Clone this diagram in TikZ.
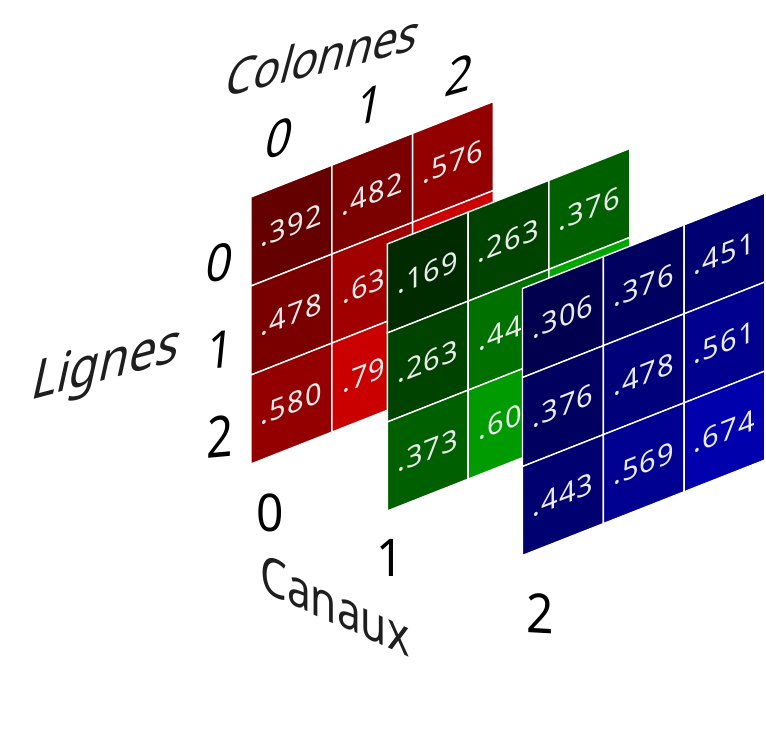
\documentclass[tikz,border=0pt]{standalone}
\usepackage{fontspec}
\setmainfont{Noto Sans}
\definecolor{valtext}{RGB}{235,235,235}
\definecolor{labtext}{RGB}{30,30,30}
% red
\definecolor{r00}{RGB}{100,0,0}\definecolor{r01}{RGB}{123,0,0}\definecolor{r02}{RGB}{147,0,0}
\definecolor{r10}{RGB}{122,0,0}\definecolor{r11}{RGB}{161,0,0}\definecolor{r12}{RGB}{204,0,0}
\definecolor{r20}{RGB}{148,0,0}\definecolor{r21}{RGB}{202,0,0}\definecolor{r22}{RGB}{220,0,0}
% green
\definecolor{g00}{RGB}{0,43,0}\definecolor{g01}{RGB}{0,67,0}\definecolor{g02}{RGB}{0,96,0}
\definecolor{g10}{RGB}{0,67,0}\definecolor{g11}{RGB}{0,113,0}\definecolor{g12}{RGB}{0,166,0}
\definecolor{g20}{RGB}{0,95,0}\definecolor{g21}{RGB}{0,155,0}\definecolor{g22}{RGB}{0,180,0}
% blue
\definecolor{b00}{RGB}{0,0,78}\definecolor{b01}{RGB}{0,0,96}\definecolor{b02}{RGB}{0,0,115}
\definecolor{b10}{RGB}{0,0,96}\definecolor{b11}{RGB}{0,0,122}\definecolor{b12}{RGB}{0,0,143}
\definecolor{b20}{RGB}{0,0,113}\definecolor{b21}{RGB}{0,0,145}\definecolor{b22}{RGB}{0,0,172}
\begin{document}
\begin{tikzpicture}[x=1pt,y=1pt,
  cellbox/.style={draw=white, line width=1.4pt},
  val/.style={transform shape, text=valtext, font=\fontsize{29}{32}\selectfont\addfontfeature{LetterSpace=4}, inner sep=0pt},
  lab/.style={text=labtext, inner sep=0pt},
  digit/.style={text=black, inner sep=0pt, font=\fontsize{52}{56}\selectfont},
]
\useasboundingbox (0,0) rectangle (766,735);
\def\cw{80.8}\def\ch{89}
% red panel
\begin{scope}[shift={(251,538)}, yslant=0.394]
\foreach \r/\c/\col/\v in {0/0/r00/.392, 0/1/r01/.482, 0/2/r02/.576,
  1/0/r10/.478, 1/1/r11/.63\phantom{0}, 1/2/r12/{},
  2/0/r20/.580, 2/1/r21/.79\phantom{0}, 2/2/r22/{}}{
  \path[cellbox, fill=\col] ({\c*\cw},{-\r*\ch}) rectangle ({(\c+1)*\cw},{-(\r+1)*\ch});
  \node[val] (red-\r-\c) at ({(\c+.5)*\cw},{-(\r+.5)*\ch}) {\v};
}
\end{scope}
% green panel
\begin{scope}[shift={(387.3,491)}, yslant=0.394]
\foreach \r/\c/\col/\v in {0/0/g00/.169, 0/1/g01/.263, 0/2/g02/.376,
  1/0/g10/.263, 1/1/g11/.44\phantom{0}, 1/2/g12/{},
  2/0/g20/.373, 2/1/g21/.60\phantom{0}, 2/2/g22/{}}{
  \path[cellbox, fill=\col] ({\c*\cw},{-\r*\ch}) rectangle ({(\c+1)*\cw},{-(\r+1)*\ch});
  \node[val] (green-\r-\c) at ({(\c+.5)*\cw},{-(\r+.5)*\ch}) {\v};
}
\end{scope}
% blue panel
\begin{scope}[shift={(522.5,446.5)}, yslant=0.394]
\foreach \r/\c/\col/\v in {0/0/b00/.306, 0/1/b01/.376, 0/2/b02/.451,
  1/0/b10/.376, 1/1/b11/.478, 1/2/b12/.561,
  2/0/b20/.443, 2/1/b21/.569, 2/2/b22/.674}{
  \path[cellbox, fill=\col] ({\c*\cw},{-\r*\ch}) rectangle ({(\c+1)*\cw},{-(\r+1)*\ch});
  \node[val] (blue-\r-\c) at ({(\c+.5)*\cw},{-(\r+.5)*\ch}) {\v};
}
\end{scope}
% axis titles
\node[lab, cm={0.86,0.209,0.27,1,(0,0)}, font=\fontsize{51}{55}\selectfont] (colonnes) at (324,680) {Colonnes};
\node[lab, cm={0.86,0.228,0.22,1,(0,0)}, font=\fontsize{56}{60}\selectfont] (lignes) at (106,368) {Lignes};
\node[lab, cm={0.8,-0.36,0,1,(0,0)}, font=\fontsize{53}{57}\selectfont] (canaux) at (335,130) {Canaux};
% column indices
\node[digit, cm={0.88,0.25,0.22,1,(0,0)}] (col0) at (280,597) {0};
\node[digit, cm={0.88,0.25,0.18,1,(0,0)}] (col1) at (370,630) {1};
\node[digit, cm={0.88,0.25,0.18,1,(0,0)}] (col2) at (460,660) {2};
% row indices
\node[digit, cm={0.88,0.08,0.18,1,(0,0)}] (row0) at (220,472) {0};
\node[digit, cm={0.88,0.08,0.1,1,(0,0)}] (row1) at (220,385) {1};
\node[digit, cm={0.88,0.08,0.03,1.1,(0,0)}] (row2) at (220,298) {2};
% channel indices
\node[digit, cm={0.92,0,0,1,(0,0)}] (ch0) at (270,222) {0};
\node[digit, cm={0.92,0,0,1,(0,0)}] (ch1) at (390,177) {1};
\node[digit, cm={0.92,-0.05,0,1.05,(0,0)}] (ch2) at (540,122) {2};
\end{tikzpicture}
\end{document}
